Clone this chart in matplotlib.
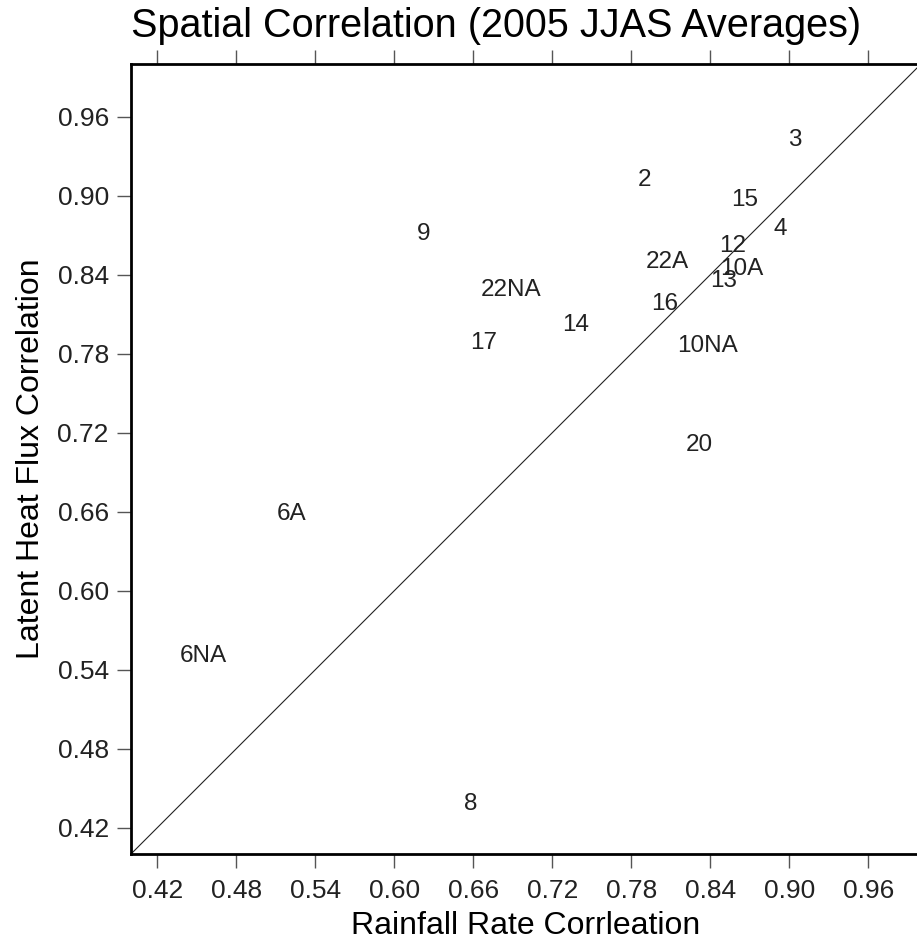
import matplotlib.pyplot as plt

plt.rcParams["font.family"] = ["Liberation Sans", "DejaVu Sans"]

# station labels and their correlations
labels = ["3", "2", "15", "9", "4", "12", "22A", "10A", "13", "22NA",
          "16", "14", "17", "10NA", "20", "6A", "6NA", "8"]
rain_corr = [0.904, 0.790, 0.866, 0.622, 0.893, 0.857, 0.807, 0.864, 0.850, 0.689,
             0.805, 0.738, 0.668, 0.838, 0.832, 0.522, 0.455, 0.658]
lhf_corr = [0.942, 0.912, 0.897, 0.871, 0.875, 0.862, 0.850, 0.844, 0.835, 0.828,
            0.818, 0.802, 0.788, 0.786, 0.711, 0.658, 0.550, 0.438]

ticks = [0.42, 0.48, 0.54, 0.60, 0.66, 0.72, 0.78, 0.84, 0.90, 0.96]

fig = plt.figure(figsize=(9.17, 9.44), dpi=100)
ax = fig.add_axes([131 / 917, 90 / 944, 790 / 917, 790 / 944])

# 1:1 reference line
ax.plot([0.4, 1.0], [0.4, 1.0], color="#222222", lw=0.8)

for lab, x, y in zip(labels, rain_corr, lhf_corr):
    ax.text(x, y, lab, ha="center", va="center", fontsize=17.5, color="#222222")

ax.set_xlim(0.4, 1.0)
ax.set_ylim(0.4, 1.0)
ax.set_xticks(ticks)
ax.set_yticks(ticks)
ax.set_xticklabels([f"{t:.2f}" for t in ticks])
ax.set_yticklabels([f"{t:.2f}" for t in ticks])
ax.tick_params(axis="both", direction="out", length=10, width=1, color="#555555",
               labelsize=19, labelcolor="#222222", pad=6)
ax.tick_params(axis="x", top=True, pad=8)
ax.tick_params(axis="y", right=True)
for s in ax.spines.values():
    s.set_linewidth(2)

ax.set_xlabel("Rainfall Rate Corrleation", fontsize=23, labelpad=6)
ax.set_ylabel("Latent Heat Flux Correlation", fontsize=23, labelpad=8)
fig.text(496 / 917, 1 - 37 / 944, "Spatial Correlation (2005 JJAS Averages)",
         fontsize=28.5, ha="center", va="baseline")

fig.savefig("out.png", dpi=100)
